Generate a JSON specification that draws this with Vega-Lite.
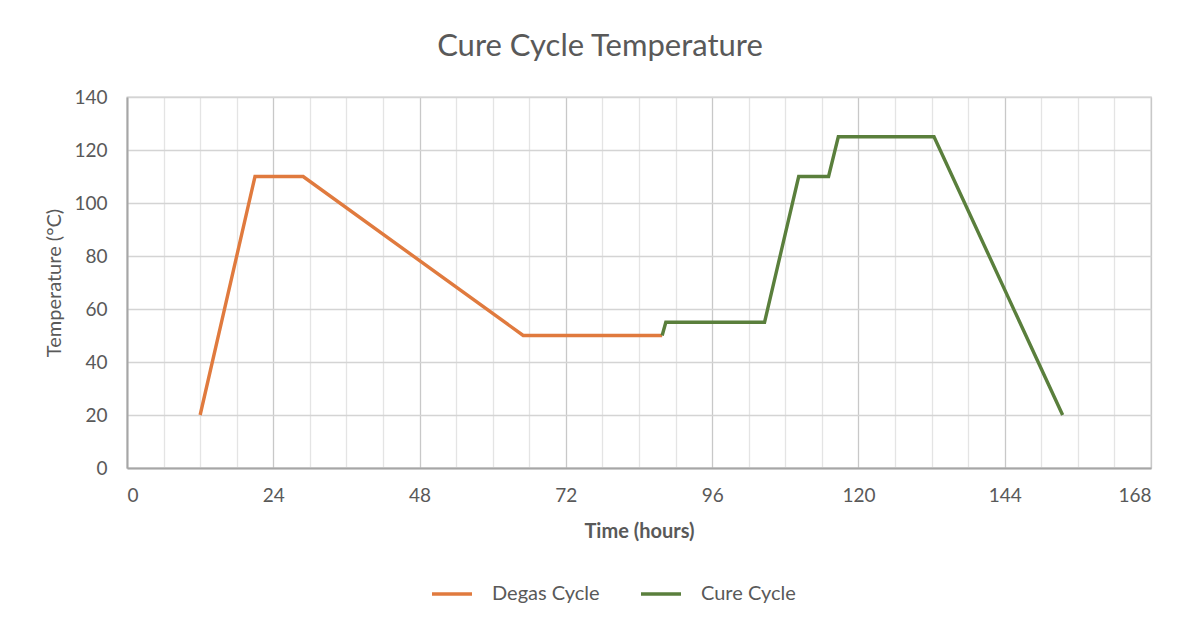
{
  "$schema": "https://vega.github.io/schema/vega-lite/v6.json",
  "width": 1024,
  "height": 371,
  "autosize": {"type": "none"},
  "padding": {"left": 127, "top": 97, "right": 44, "bottom": 161},
  "background": "white",
  "title": {
    "text": "Cure Cycle Temperature",
    "fontSize": 31,
    "font": "Lato",
    "fontWeight": "normal",
    "color": "#595959",
    "anchor": "middle",
    "dx": -39,
    "offset": 25
  },
  "data": {
    "values": [
      {"series": "Degas Cycle", "t": 12, "temp": 20},
      {"series": "Degas Cycle", "t": 21, "temp": 110},
      {"series": "Degas Cycle", "t": 28.9, "temp": 110},
      {"series": "Degas Cycle", "t": 65, "temp": 50},
      {"series": "Degas Cycle", "t": 87.8, "temp": 50},
      {"series": "Cure Cycle", "t": 87.8, "temp": 50},
      {"series": "Cure Cycle", "t": 88.4, "temp": 55},
      {"series": "Cure Cycle", "t": 104.6, "temp": 55},
      {"series": "Cure Cycle", "t": 110.2, "temp": 110},
      {"series": "Cure Cycle", "t": 115.1, "temp": 110},
      {"series": "Cure Cycle", "t": 116.7, "temp": 125},
      {"series": "Cure Cycle", "t": 132.4, "temp": 125},
      {"series": "Cure Cycle", "t": 153.5, "temp": 20}
    ]
  },
  "mark": {"type": "line", "strokeWidth": 3.4, "strokeJoin": "miter"},
  "encoding": {
    "x": {
      "field": "t",
      "type": "quantitative",
      "scale": {"domain": [0, 168], "nice": false},
      "axis": {
        "title": "Time (hours)",
        "values": [0, 6, 12, 18, 24, 30, 36, 42, 48, 54, 60, 66, 72, 78, 84, 90, 96, 102, 108, 114, 120, 126, 132, 138, 144, 150, 156, 162, 168],
        "labelExpr": "datum.value % 24 === 0 ? datum.label : ''",
        "gridColor": {"condition": {"test": "datum.value % 24 === 0", "value": "#c8c8c8"}, "value": "#e4e4e4"},
        "gridWidth": 1.3,
        "ticks": false,
        "labelPadding": 18,
        "titleFontSize": 20,
        "titlePadding": 16
      }
    },
    "y": {
      "field": "temp",
      "type": "quantitative",
      "scale": {"domain": [0, 140], "nice": false},
      "axis": {
        "title": "Temperature  (°C)",
        "values": [0, 20, 40, 60, 80, 100, 120, 140],
        "gridColor": "#d4d4d4",
        "gridWidth": 1.3,
        "ticks": false,
        "labelPadding": 20,
        "titleFontSize": 20,
        "titlePadding": 9
      }
    },
    "color": {
      "field": "series",
      "type": "nominal",
      "scale": {"domain": ["Degas Cycle", "Cure Cycle"], "range": ["#E07A3E", "#5A7F3C"]},
      "legend": {
        "title": null,
        "orient": "none",
        "direction": "horizontal",
        "legendX": 303,
        "legendY": 475,
        "symbolType": "stroke",
        "symbolSize": 1600,
        "symbolStrokeWidth": 3.5,
        "labelFontSize": 20,
        "labelFont": "Lato",
        "labelColor": "#595959",
        "labelOffset": 18,
        "columnPadding": 34
      }
    }
  },
  "config": {
    "view": {"stroke": "#d0d0d0", "strokeWidth": 1.3},
    "axis": {
      "labelFont": "Lato",
      "labelFontSize": 19,
      "labelColor": "#595959",
      "titleFont": "Lato",
      "titleColor": "#595959",
      "domainColor": "#a6a6a6",
      "domainWidth": 2
    },
    "axisX": {"titleFontWeight": "bold"},
    "axisY": {"titleFontWeight": "normal"}
  }
}
